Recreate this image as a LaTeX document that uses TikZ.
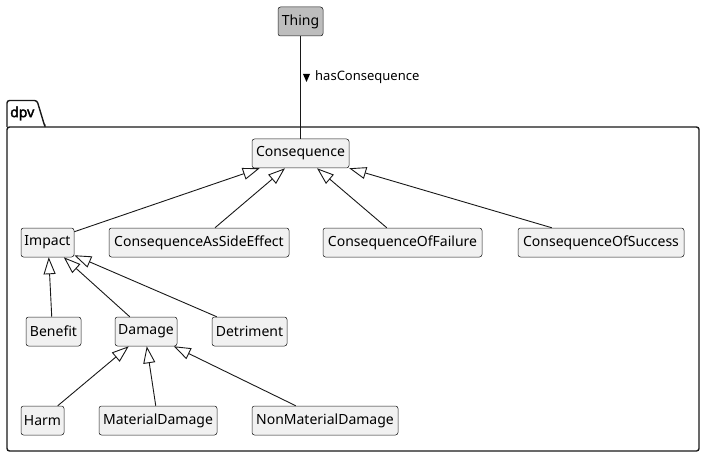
\documentclass[tikz,border=0pt]{standalone}
\usepackage{fontspec}
\setmainfont{Noto Sans}
\newfontfamily\boldnoto{Noto Sans}[FakeBold=2.5]
\usetikzlibrary{arrows.meta}
\definecolor{boxfill}{HTML}{F1F1F1}
\definecolor{boxline}{HTML}{181818}
\definecolor{thingfill}{HTML}{BDBDBD}
\tikzset{
  cls/.style={draw=boxline, line width=0.5pt, fill=boxfill, rounded corners=2.5pt,
    minimum height=29pt, inner sep=0pt, font=\fontsize{14}{16}\selectfont},
  gen/.style={draw=boxline, line width=0.9pt,
    -{Triangle[open, fill=white, length=17pt, width=12pt, line width=0.9pt]}},
  assoc/.style={draw=boxline, line width=0.9pt},
}
\begin{document}
\begin{tikzpicture}[x=1pt, y=-1pt]
\useasboundingbox (0,0) rectangle (706,457);
% package
\draw[boxline, line width=1.4pt, rounded corners=2.5pt]
  (7,127) -- (7,100.5) -- (37,100.5) -- (45,127) -- (45,127);
\draw[boxline, line width=1.4pt, rounded corners=2.5pt]
  (7,127) rectangle (699,451);
\node[font=\fontsize{14}{16}\boldnoto, anchor=west, inner sep=0pt] (pkg) at (10,113.5) {dpv};
% nodes
\node[cls, fill=thingfill, minimum width=45pt] (thing) at (300.5,21.5) {Thing};
\node[cls, minimum width=97pt] (cons) at (300.5,153.5) {Consequence};
\node[cls, minimum width=53pt] (impact) at (47.5,242.5) {Impact};
\node[cls, minimum width=180pt] (case) at (199,242.5) {ConsequenceAsSideEffect};
\node[cls, minimum width=159pt] (cof) at (402.5,242.5) {ConsequenceOfFailure};
\node[cls, minimum width=166pt] (cos) at (601,242.5) {ConsequenceOfSuccess};
\node[cls, minimum width=55pt] (benefit) at (53.5,331.5) {Benefit};
\node[cls, minimum width=62pt] (damage) at (146,331.5) {Damage};
\node[cls, minimum width=75pt] (detriment) at (249.5,331.5) {Detriment};
\node[cls, minimum width=43pt] (harm) at (42.5,420.5) {Harm};
\node[cls, minimum width=118pt] (matdam) at (158,420.5) {MaterialDamage};
\node[cls, minimum width=146pt] (nonmat) at (325,420.5) {NonMaterialDamage};
% association
\draw[assoc] (thing.south) -- (cons.north);
\fill[black] (303,74) -- (310,74) -- (306.5,82) -- cycle;
\node[font=\fontsize{13}{15}\selectfont, anchor=west, inner sep=0pt] (lbl) at (315,77) {hasConsequence};
% generalizations
\draw[gen] ([yshift=-4pt]impact.north east) -- ([xshift=8pt]cons.south west);
\draw[gen] ([xshift=16pt]case.north) -- ([xshift=-15.5pt]cons.south);
\draw[gen] ([xshift=64pt]cof.north west) -- ([xshift=16.5pt]cons.south);
\draw[gen] ([xshift=34pt]cos.north west) -- (cons.south east);
\draw[gen] ([xshift=26pt]benefit.north west) -- ([xshift=28pt]impact.south west);
\draw[gen] ([xshift=15pt]damage.north west) -- ([xshift=43pt]impact.south west);
\draw[gen] ([xshift=5pt]detriment.north west) -- ([yshift=2pt]impact.south east);
\draw[gen] ([xshift=37pt]harm.north west) -- ([xshift=14pt]damage.south west);
\draw[gen] ([xshift=57pt]matdam.north west) -- ([xshift=32pt]damage.south west);
\draw[gen] ([xshift=44pt]nonmat.north west) -- ([xshift=59pt]damage.south west);
\end{tikzpicture}
\end{document}
